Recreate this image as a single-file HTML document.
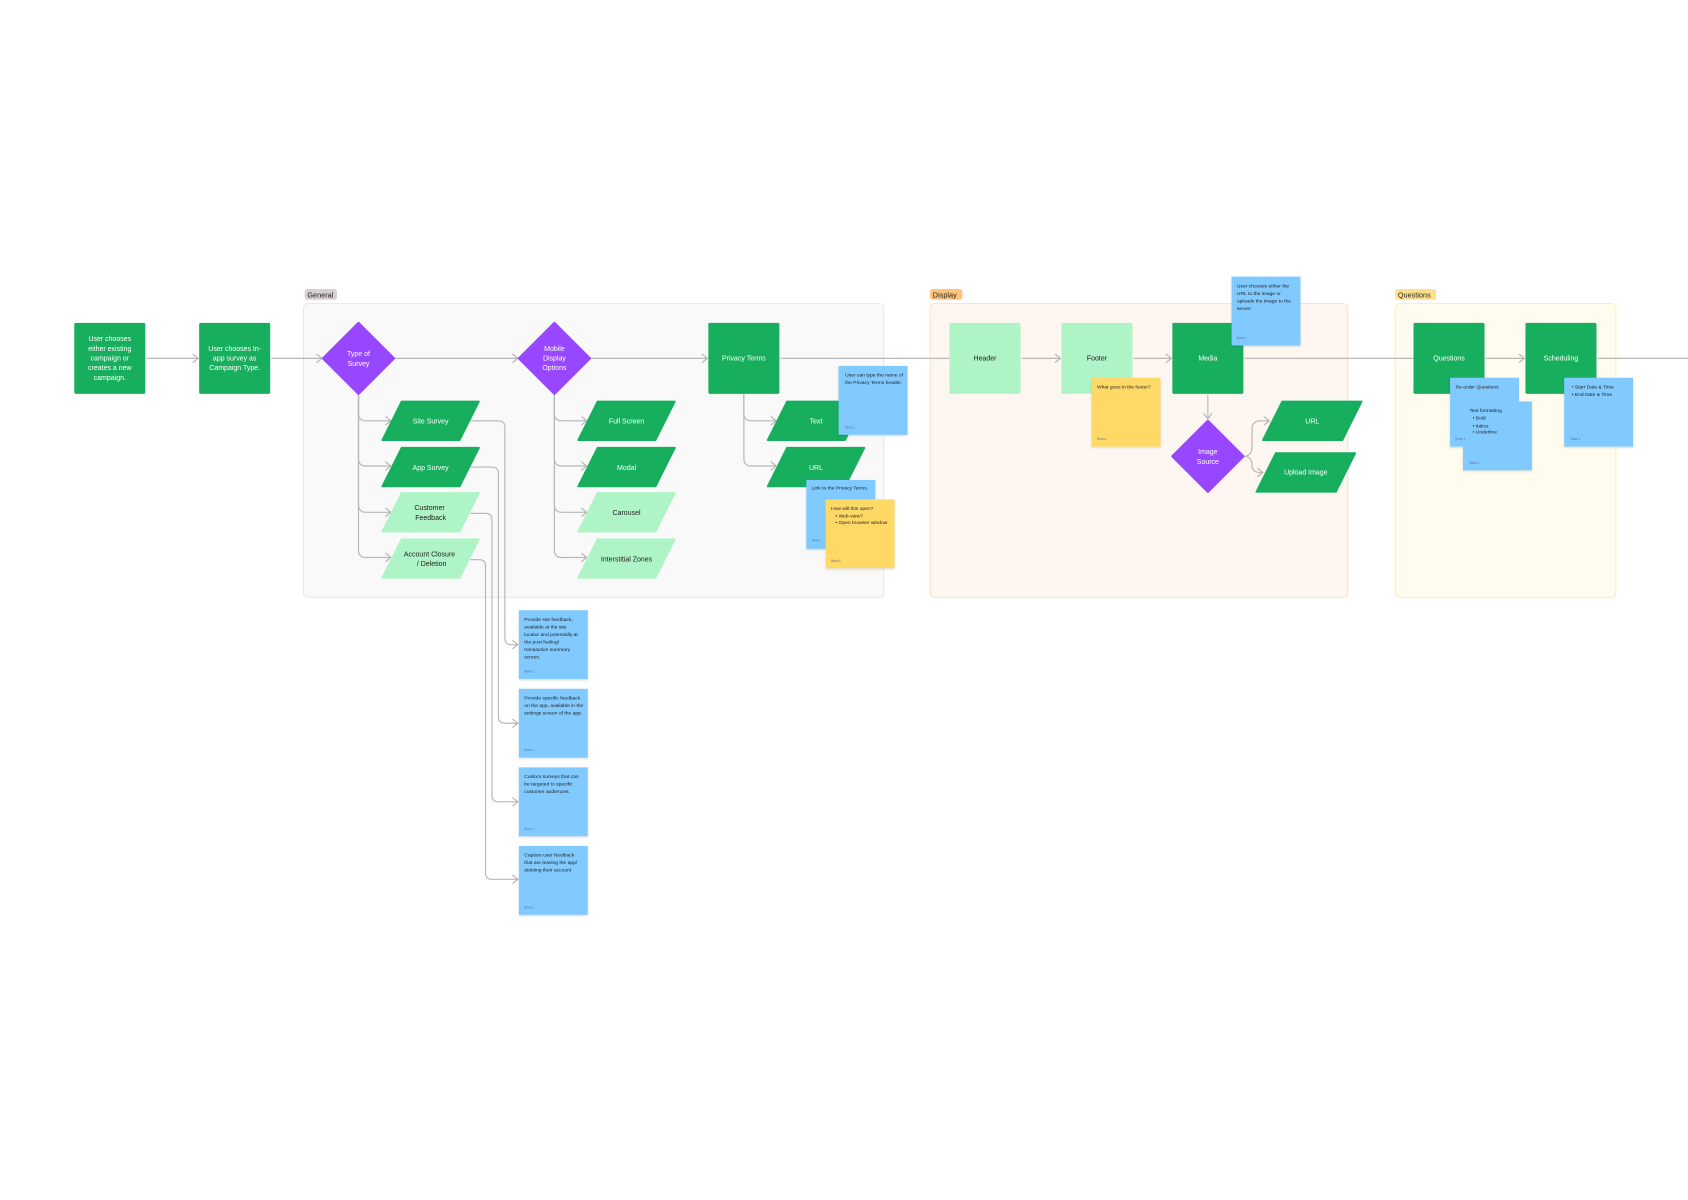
<!DOCTYPE html>
<html><head><meta charset="utf-8"><style>
html,body{margin:0;padding:0;background:#fff;width:1688px;height:1200px;overflow:hidden}
svg{display:block}
text{font-family:"Liberation Sans",sans-serif}
.w{fill:#fff;font-size:6.5px;text-anchor:middle}
.d{fill:#1e1e1e;font-size:6.5px;text-anchor:middle}
.s{fill:#1e1e1e;font-size:4.6px}
.b{fill:#5a7a99;font-size:3px}
.ln{fill:none;stroke:#b8b8b8;stroke-width:1.1}
</style></head><body>
<svg width="1688" height="1200" viewBox="0 0 1568 1115" preserveAspectRatio="none" xmlns="http://www.w3.org/2000/svg">
<defs>
<marker id="a" markerWidth="8" markerHeight="10" refX="6" refY="5" orient="auto" markerUnits="userSpaceOnUse">
<path d="M1,1 L6,5 L1,9" fill="none" stroke="#b0b0b0" stroke-width="1"/></marker>
<filter id="sh" x="-10%" y="-10%" width="130%" height="130%"><feDropShadow dx="0" dy="1" stdDeviation="1" flood-color="#000" flood-opacity="0.15"/></filter>
</defs>

<!-- frames -->
<rect x="282" y="282" width="539" height="273" rx="4" fill="#f9f9f9" stroke="#e3e3e3" stroke-width="0.8"/>
<rect x="283" y="268.5" width="30" height="10" rx="2.5" fill="#d7cfd0"/>
<text x="285.5" y="276.5" style="font-size:6.8px;fill:#222">General</text>
<rect x="864" y="282" width="388" height="273" rx="4" fill="#fef7f1" stroke="#fcdcb7" stroke-width="0.8"/>
<rect x="864" y="268.5" width="30" height="10" rx="2.5" fill="#ffc47a"/>
<text x="866.5" y="276.5" style="font-size:6.8px;fill:#222">Display</text>
<rect x="1296" y="282" width="205" height="273" rx="4" fill="#fffcef" stroke="#fde9a8" stroke-width="0.8"/>
<rect x="1296" y="268.5" width="38" height="10" rx="2.5" fill="#ffe08a"/>
<text x="1298.5" y="276.5" style="font-size:6.8px;fill:#222">Questions</text>

<!-- main line -->
<path class="ln" d="M136,333 H184" marker-end="url(#a)"/>
<path class="ln" d="M252,333 H299" marker-end="url(#a)"/>
<path class="ln" d="M367,333 H481" marker-end="url(#a)"/>
<path class="ln" d="M549,333 H657" marker-end="url(#a)"/>
<path class="ln" d="M725,333 H882"/>
<path class="ln" d="M949,333 H985" marker-end="url(#a)"/>
<path class="ln" d="M1053,333 H1088" marker-end="url(#a)"/>
<path class="ln" d="M1156,333 H1313"/>
<path class="ln" d="M1380,333 H1416" marker-end="url(#a)"/>
<path class="ln" d="M1484,333 H1568"/>

<!-- branches from Type of Survey -->
<path class="ln" d="M333,366 V384 Q333,391 340,391 H363" marker-end="url(#a)"/>
<path class="ln" d="M333,366 V426 Q333,433 340,433 H363" marker-end="url(#a)"/>
<path class="ln" d="M333,366 V469 Q333,476 340,476 H363" marker-end="url(#a)"/>
<path class="ln" d="M333,366 V511 Q333,518 340,518 H363" marker-end="url(#a)"/>
<!-- branches from Mobile display -->
<path class="ln" d="M515,366 V384 Q515,391 522,391 H545" marker-end="url(#a)"/>
<path class="ln" d="M515,366 V426 Q515,433 522,433 H545" marker-end="url(#a)"/>
<path class="ln" d="M515,366 V469 Q515,476 522,476 H545" marker-end="url(#a)"/>
<path class="ln" d="M515,366 V511 Q515,518 522,518 H545" marker-end="url(#a)"/>
<!-- privacy branches -->
<path class="ln" d="M691,366 V384 Q691,391 698,391 H721" marker-end="url(#a)"/>
<path class="ln" d="M691,366 V426 Q691,433 698,433 H721" marker-end="url(#a)"/>
<!-- to stickies -->
<path class="ln" d="M437,391 H463 Q469,391 469,397 V593 Q469,599 475,599 H481" marker-end="url(#a)"/>
<path class="ln" d="M437,434 H457 Q463,434 463,440 V666 Q463,672 469,672 H481" marker-end="url(#a)"/>
<path class="ln" d="M437,477 H451 Q457,477 457,483 V739 Q457,745 463,745 H481" marker-end="url(#a)"/>
<path class="ln" d="M437,520 H445 Q451,520 451,526 V811 Q451,817 457,817 H481" marker-end="url(#a)"/>
<!-- media -->
<path class="ln" d="M1122,367 V389" marker-end="url(#a)"/>
<path class="ln" d="M1155,424 Q1163,424 1163,415 V399 Q1163,391 1171,391 H1179" marker-end="url(#a)"/>
<path class="ln" d="M1155,424 Q1163,424 1163,432 V432 Q1163,439 1170,439 H1173" marker-end="url(#a)"/>

<!-- boxes -->
<g>
<rect x="69" y="300" width="66" height="66" rx="1.5" fill="#17ae5e"/>
<text class="w"><tspan x="102" y="317">User chooses</tspan><tspan x="102" y="326">either existing</tspan><tspan x="102" y="335">campaign or</tspan><tspan x="102" y="344">creates a new</tspan><tspan x="102" y="353">campaign.</tspan></text>
<rect x="185" y="300" width="66" height="66" rx="1.5" fill="#17ae5e"/>
<text class="w"><tspan x="218" y="326">User chooses In-</tspan><tspan x="218" y="335">app survey as</tspan><tspan x="218" y="344">Campaign Type.</tspan></text>
<rect x="658" y="300" width="66" height="66" rx="1.5" fill="#17ae5e"/>
<text class="w" x="691" y="335">Privacy Terms</text>
<rect x="882" y="300" width="66" height="66" rx="1.5" fill="#aff4c6"/>
<text class="d" x="915" y="335">Header</text>
<rect x="986" y="300" width="66" height="66" rx="1.5" fill="#aff4c6"/>
<text class="d" x="1019" y="335">Footer</text>
<rect x="1089" y="300" width="66" height="66" rx="1.5" fill="#17ae5e"/>
<text class="w" x="1122" y="335">Media</text>
<rect x="1313" y="300" width="66" height="66" rx="1.5" fill="#17ae5e"/>
<text class="w" x="1346" y="335">Questions</text>
<rect x="1417" y="300" width="66" height="66" rx="1.5" fill="#17ae5e"/>
<text class="w" x="1450" y="335">Scheduling</text>
</g>

<!-- diamonds -->
<polygon points="333,300 366,333 333,366 300,333" fill="#9747ff" stroke="#9747ff" stroke-width="2" stroke-linejoin="round"/>
<text class="w"><tspan x="333" y="331">Type of</tspan><tspan x="333" y="340">Survey</tspan></text>
<polygon points="515,300 548,333 515,366 482,333" fill="#9747ff" stroke="#9747ff" stroke-width="2" stroke-linejoin="round"/>
<text class="w"><tspan x="515" y="326">Mobile</tspan><tspan x="515" y="335">Display</tspan><tspan x="515" y="344">Options</tspan></text>
<polygon points="1122,391 1155,424 1122,457 1089,424" fill="#9747ff" stroke="#9747ff" stroke-width="2" stroke-linejoin="round"/>
<text class="w"><tspan x="1122" y="422">Image</tspan><tspan x="1122" y="431">Source</tspan></text>

<!-- parallelograms -->
<g stroke-linejoin="round" stroke-width="1.5">
<polygon points="373,373 445,373 427,409 355,409" fill="#17ae5e" stroke="#17ae5e"/>
<text class="w" x="400" y="393.5">Site Survey</text>
<polygon points="373,416 445,416 427,452 355,452" fill="#17ae5e" stroke="#17ae5e"/>
<text class="w" x="400" y="436.5">App Survey</text>
<polygon points="373,458 445,458 427,494 355,494" fill="#aff4c6" stroke="#aff4c6"/>
<text class="d"><tspan x="399" y="474">Customer</tspan><tspan x="400" y="483">Feedback</tspan></text>
<polygon points="373,501 445,501 427,537 355,537" fill="#aff4c6" stroke="#aff4c6"/>
<text class="d"><tspan x="399" y="517">Account Closure</tspan><tspan x="401" y="526">/ Deletion</tspan></text>

<polygon points="555,373 627,373 609,409 537,409" fill="#17ae5e" stroke="#17ae5e"/>
<text class="w" x="582" y="393.5">Full Screen</text>
<polygon points="555,416 627,416 609,452 537,452" fill="#17ae5e" stroke="#17ae5e"/>
<text class="w" x="582" y="436.5">Modal</text>
<polygon points="555,458 627,458 609,494 537,494" fill="#aff4c6" stroke="#aff4c6"/>
<text class="d" x="582" y="478.5">Carousel</text>
<polygon points="555,501 627,501 609,537 537,537" fill="#aff4c6" stroke="#aff4c6"/>
<text class="d" x="582" y="521.5">Interstitial Zones</text>

<polygon points="731,373 803,373 785,409 713,409" fill="#17ae5e" stroke="#17ae5e"/>
<text class="w" x="758" y="393.5">Text</text>
<polygon points="731,416 803,416 785,452 713,452" fill="#17ae5e" stroke="#17ae5e"/>
<text class="w" x="758" y="436.5">URL</text>

<polygon points="1191,373 1265,373 1247,409 1173,409" fill="#17ae5e" stroke="#17ae5e"/>
<text class="w" x="1219" y="393.5">URL</text>
<polygon points="1185,421 1259,421 1241,457 1167,457" fill="#17ae5e" stroke="#17ae5e"/>
<text class="w" x="1213" y="441">Upload Image</text>
</g>

<!-- stickies -->
<g filter="url(#sh)">
<rect x="779" y="340" width="64" height="64" fill="#80caff"/>
<rect x="749" y="446" width="64" height="64" fill="#80caff"/>
<rect x="767" y="464" width="64" height="64" fill="#ffd966"/>
<rect x="1014" y="351" width="64" height="64" fill="#ffd966"/>
<rect x="1144" y="257" width="64" height="64" fill="#80caff"/>
<rect x="1347" y="351" width="64" height="64" fill="#80caff"/>
<rect x="1359" y="373" width="64" height="64" fill="#80caff"/>
<rect x="1453" y="351" width="64" height="64" fill="#80caff"/>
<rect x="482" y="567" width="64" height="64" fill="#80caff"/>
<rect x="482" y="640" width="64" height="64" fill="#80caff"/>
<rect x="482" y="713" width="64" height="64" fill="#80caff"/>
<rect x="482" y="786" width="64" height="64" fill="#80caff"/>
</g>
<text class="s"><tspan x="785" y="350">User can type the name of</tspan><tspan x="785" y="357">the Privacy Terms header.</tspan></text>
<text class="b" x="785" y="398">Brian L</text>
<text class="s" x="754" y="455">Link to the Privacy Terms.</text>
<text class="b" x="754" y="503">Brian L</text>
<text class="s"><tspan x="772" y="474">How will this open?</tspan><tspan x="776" y="481">•  Web-view?</tspan><tspan x="776" y="487">•  Open browser window</tspan></text>
<text class="b" x="772" y="522">Brian L</text>
<text class="s" x="1019" y="361">What goes in the footer?</text>
<text class="b" x="1019" y="409">Brian L</text>
<text class="s"><tspan x="1149" y="267">User chooses either the</tspan><tspan x="1149" y="274">URL to the image or</tspan><tspan x="1149" y="281">uploads the image to the</tspan><tspan x="1149" y="288">server.</tspan></text>
<text class="b" x="1149" y="315">Brian L</text>
<text class="s" x="1352" y="361">Re-order Questions</text>
<text class="b" x="1352" y="409">Brian L</text>
<text class="s"><tspan x="1365" y="383">Text formatting</tspan><tspan x="1368" y="390">•  Bold</tspan><tspan x="1368" y="397">•  Italics</tspan><tspan x="1368" y="403">•  Underline</tspan></text>
<text class="b" x="1365" y="431">Brian L</text>
<text class="s"><tspan x="1460" y="361">•  Start Date &amp; Time</tspan><tspan x="1460" y="368">•  End Date &amp; Time</tspan></text>
<text class="b" x="1459" y="409">Brian L</text>
<text class="s"><tspan x="487" y="577">Provide site feedback,</tspan><tspan x="487" y="584">available at the site</tspan><tspan x="487" y="591">locator and potentially at</tspan><tspan x="487" y="598">the post fueling/</tspan><tspan x="487" y="605">transaction summary</tspan><tspan x="487" y="612">screen.</tspan></text>
<text class="b" x="487" y="625">Brian L</text>
<text class="s"><tspan x="487" y="650">Provide specific feedback</tspan><tspan x="487" y="657">on the app, available in the</tspan><tspan x="487" y="664">settings screen of the app.</tspan></text>
<text class="b" x="487" y="698">Brian L</text>
<text class="s"><tspan x="487" y="723">Custom surveys that can</tspan><tspan x="487" y="730">be targeted to specific</tspan><tspan x="487" y="737">customer audiences.</tspan></text>
<text class="b" x="487" y="771">Brian L</text>
<text class="s"><tspan x="487" y="796">Capture user feedback</tspan><tspan x="487" y="803">that are leaving the app/</tspan><tspan x="487" y="810">deleting their account</tspan></text>
<text class="b" x="487" y="844">Brian L</text>
</svg>
</body></html>
